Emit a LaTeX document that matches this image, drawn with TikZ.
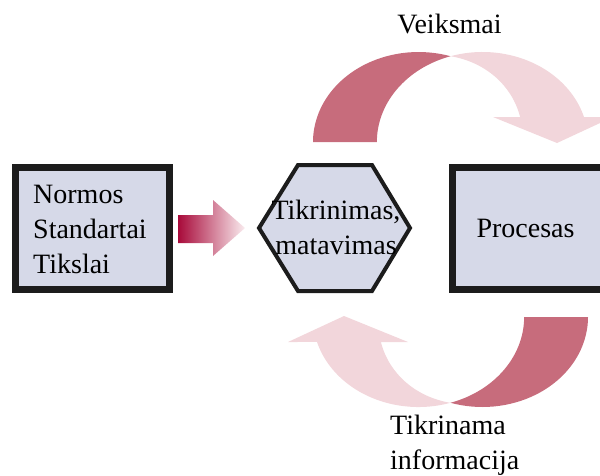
\documentclass[tikz,border=0pt]{standalone}
\usepackage{fontspec}
\setmainfont{Liberation Serif}
\definecolor{boxfill}{RGB}{214,217,232}
\definecolor{boxline}{RGB}{28,28,28}
\definecolor{curldark}{RGB}{199,108,124}
\definecolor{curllight}{RGB}{242,214,219}
\definecolor{pushdark}{RGB}{168,10,58}
\definecolor{pushlight}{RGB}{250,236,239}
% one curled arrow: shaded underside on the left, body and head on the right
\newcommand\curlshape{%
  \fill[curldark] (313,142)
    arc[start angle=180, end angle=287.6, x radius=105.6, y radius=90]
    arc[start angle=252.4, end angle=180, x radius=105.6, y radius=90] -- cycle;
  \fill[curllight] (450.6,56.2)
    arc[start angle=252.4, end angle=343.9, x radius=105.6, y radius=90]
    -- (613,117) -- (557,143) -- (493,117) -- (520.1,117)
    .. controls (512,85) and (485,62) .. (450.6,56.2) -- cycle;
}
\begin{document}
\begin{tikzpicture}[x=1pt,y=-1pt]
\tikzset{
  panel/.style={draw=boxline, line width=7pt, fill=boxfill, inner sep=0pt},
  txt/.style={font=\fontsize{28}{35}\selectfont, inner sep=0pt, text=black},
}
\useasboundingbox (0,0) rectangle (600,475);
\clip (0,0) rectangle (600,475);

% curled arrows above and below
\curlshape
\begin{scope}[rotate around={180:(450.5,229.5)}]
  \curlshape
\end{scope}

% boxes
\node[panel, minimum width=154pt, minimum height=122pt] (norms) at (92.5,228.5) {};
\node[panel, minimum width=190pt, minimum height=122pt] (proc) at (547.5,228.5) {};

% hexagon
\coordinate (hexc) at (334.5,228);
\draw[boxline, line width=4pt, fill=boxfill, line join=miter]
  (259,228) -- (298,165) -- (372,165) -- (410,228) -- (372,291) -- (298,291) -- cycle;

% straight arrow from the left box to the hexagon
\shade[left color=pushdark, right color=pushlight]
  (178,215) -- (213,215) -- (213,200) -- (245,228) -- (213,256) -- (213,243) -- (178,243) -- cycle;

% texts (a multi-line node sits on the baseline of its last line)
\node[txt, anchor=base west, align=left] (normstext) at (33,273) {Normos\\Standartai\\Tikslai};
\node[txt, anchor=base, align=center] (checktext) at (336,254) {Tikrinimas,\\matavimas};
\node[txt, anchor=base] (proctext) at (525.5,237) {Procesas};
\node[txt, anchor=base] (acttext) at (449.5,33) {Veiksmai};
\node[txt, anchor=base west, align=left] (infotext) at (390,469) {Tikrinama\\informacija};
\end{tikzpicture}
\end{document}
